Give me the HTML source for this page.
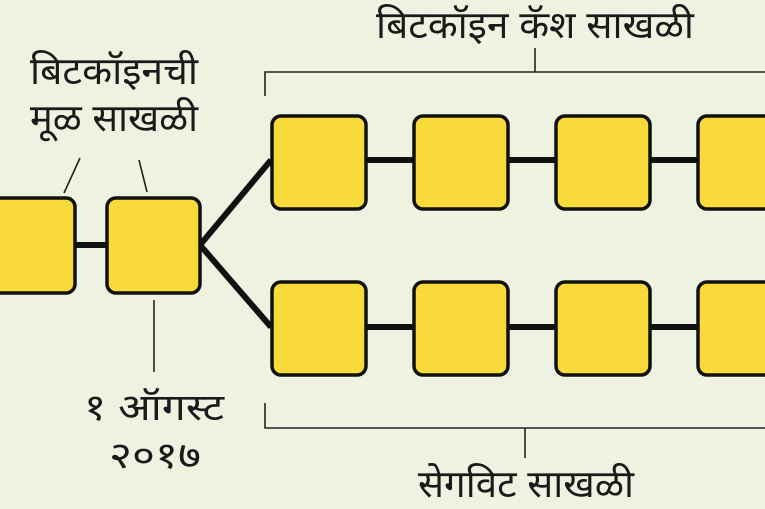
<!DOCTYPE html>
<html><head><meta charset="utf-8"><style>
html,body{margin:0;padding:0;background:#eef2e0;}
body{width:765px;height:509px;overflow:hidden;position:relative;}
svg{position:absolute;left:0;top:0;}
text{font-family:"Liberation Sans","Noto Sans CJK SC","DejaVu Sans",sans-serif;fill:#1a1a1a;}
</style></head><body>
<svg width="765" height="509" viewBox="0 0 765 509">
<g stroke="#111" stroke-width="6" fill="none">
<line x1="75" y1="245" x2="106" y2="245"/>
<line x1="200" y1="245" x2="271" y2="160"/>
<line x1="200" y1="245" x2="271" y2="327"/>
<line x1="366" y1="160" x2="700" y2="160"/>
<line x1="366" y1="327" x2="700" y2="327"/>
</g>
<g fill="#f8da3a" stroke="#111" stroke-width="3.5">
<rect x="-10" y="198" width="85" height="95" rx="9"/>
<rect x="107" y="198" width="93" height="95" rx="9"/>
<rect x="272" y="116" width="94" height="93" rx="9"/>
<rect x="414" y="116" width="94" height="93" rx="9"/>
<rect x="556" y="116" width="94" height="93" rx="9"/>
<rect x="698" y="116" width="94" height="93" rx="9"/>
<rect x="272" y="282" width="94" height="93" rx="9"/>
<rect x="414" y="282" width="94" height="93" rx="9"/>
<rect x="556" y="282" width="94" height="93" rx="9"/>
<rect x="698" y="282" width="94" height="93" rx="9"/>
</g>
<g stroke="#222" stroke-width="1.6" fill="none">
<polyline points="265,96 265,72 765,72"/>
<line x1="535" y1="72" x2="535" y2="48"/>
<polyline points="265,403 265,428 765,428"/>
<line x1="525" y1="428" x2="525" y2="458"/>
<line x1="80" y1="158" x2="64" y2="193"/>
<line x1="139" y1="160" x2="147" y2="192"/>
<line x1="154" y1="300" x2="154" y2="372"/>
</g>
<text x="535" y="38" font-size="38" text-anchor="middle" textLength="318" lengthAdjust="spacingAndGlyphs">बिटकॉइन कॅश साखळी</text>
<text x="114" y="84" font-size="38" text-anchor="middle" textLength="168" lengthAdjust="spacingAndGlyphs">बिटकॉइनची</text>
<text x="114" y="131" font-size="38" text-anchor="middle" textLength="168" lengthAdjust="spacingAndGlyphs">मूळ साखळी</text>
<text x="154" y="420" font-size="37" text-anchor="middle" textLength="140" lengthAdjust="spacingAndGlyphs">१ ऑगस्ट</text>
<text x="155" y="468" font-size="37" text-anchor="middle" textLength="92" lengthAdjust="spacingAndGlyphs">२०१७</text>
<text x="526" y="497" font-size="38" text-anchor="middle" textLength="216" lengthAdjust="spacingAndGlyphs">सेगविट साखळी</text>
</svg>
</body></html>
